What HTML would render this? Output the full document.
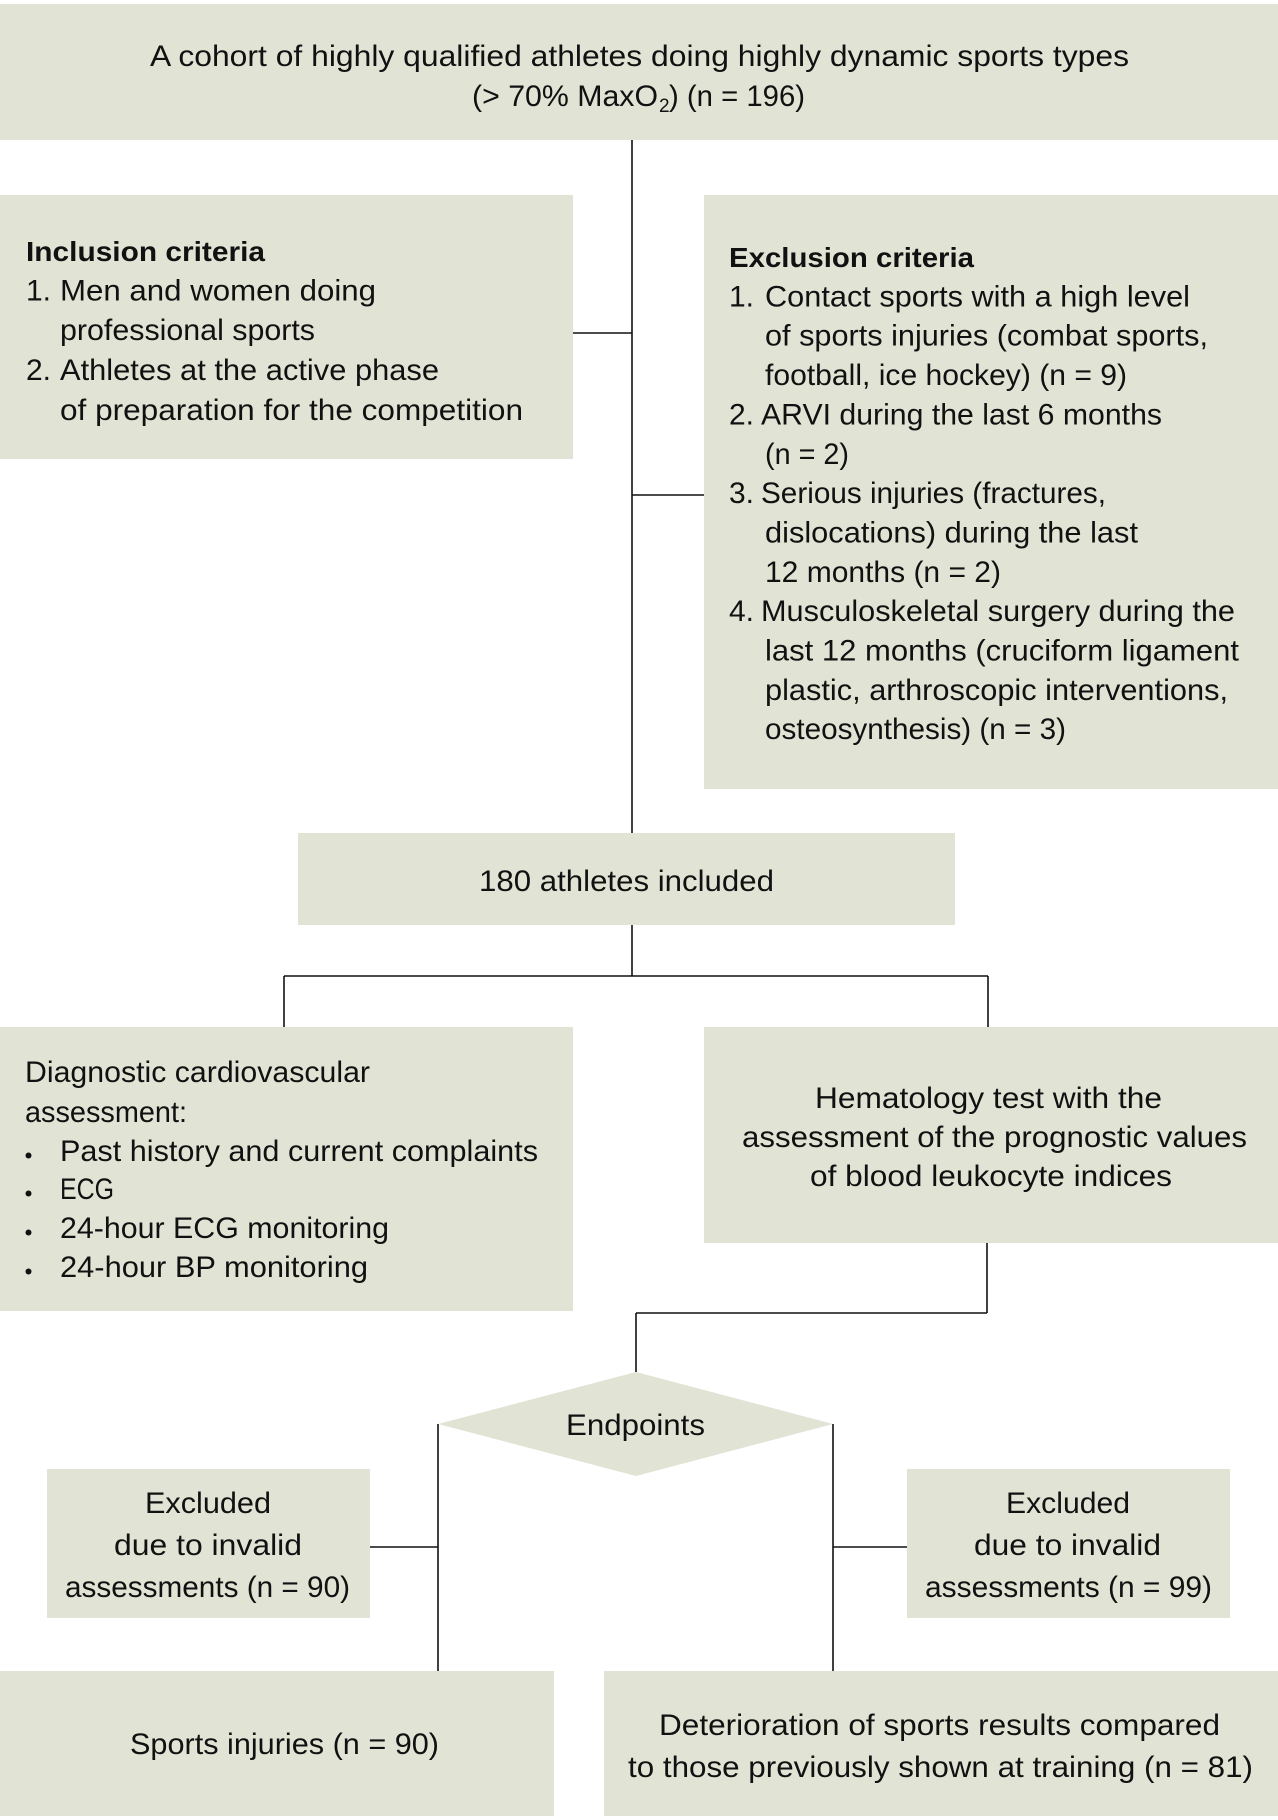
<!DOCTYPE html>
<html>
<head>
<meta charset="utf-8">
<style>
  html, body { margin: 0; padding: 0; background: #ffffff; }
  svg { display: block; }
  text { font-family: "Liberation Sans", Arial, sans-serif; font-size: 30px; fill: #111111; }
  .b { font-weight: bold; font-size: 28px; }
  .box { fill: #e1e4d5; }
  .ln { stroke: #111111; stroke-width: 1.6; fill: none; }
</style>
</head>
<body>
<svg width="1278" height="1820" viewBox="0 0 1278 1820" xmlns="http://www.w3.org/2000/svg">
  <!-- Boxes -->
  <rect class="box" x="0" y="4" width="1278" height="136"/>
  <rect class="box" x="0" y="195" width="573" height="264"/>
  <rect class="box" x="704" y="195" width="574" height="594"/>
  <rect class="box" x="298" y="833" width="657" height="92"/>
  <rect class="box" x="0" y="1027" width="573" height="284"/>
  <rect class="box" x="704" y="1027" width="574" height="216"/>
  <polygon class="box" points="636,1372 833,1424 636,1476 438,1424"/>
  <rect class="box" x="47" y="1469" width="323" height="149"/>
  <rect class="box" x="907" y="1469" width="323" height="149"/>
  <rect class="box" x="0" y="1671" width="554" height="145"/>
  <rect class="box" x="604" y="1671" width="674" height="145"/>

  <!-- Connectors -->
  <line class="ln" x1="632" y1="140" x2="632" y2="833"/>
  <line class="ln" x1="573" y1="333" x2="632" y2="333"/>
  <line class="ln" x1="632" y1="495" x2="704" y2="495"/>
  <line class="ln" x1="632" y1="925" x2="632" y2="976"/>
  <line class="ln" x1="284" y1="976" x2="988" y2="976"/>
  <line class="ln" x1="284" y1="976" x2="284" y2="1027"/>
  <line class="ln" x1="988" y1="976" x2="988" y2="1027"/>
  <line class="ln" x1="987" y1="1243" x2="987" y2="1313"/>
  <line class="ln" x1="636" y1="1313" x2="987" y2="1313"/>
  <line class="ln" x1="636" y1="1313" x2="636" y2="1372"/>
  <line class="ln" x1="438" y1="1424" x2="438" y2="1671"/>
  <line class="ln" x1="833" y1="1424" x2="833" y2="1671"/>
  <line class="ln" x1="370" y1="1547" x2="438" y2="1547"/>
  <line class="ln" x1="833" y1="1547" x2="907" y2="1547"/>

  <!-- Top box text -->
  <text x="150" y="66" textLength="979" lengthAdjust="spacingAndGlyphs">A cohort of highly qualified athletes doing highly dynamic sports types</text>
  <text x="472" y="106" textLength="186" lengthAdjust="spacingAndGlyphs">(&gt; 70% MaxO</text>
  <text x="659" y="112" style="font-size:19px">2</text>
  <text x="669" y="106" textLength="136" lengthAdjust="spacingAndGlyphs">) (n = 196)</text>

  <!-- Inclusion -->
  <text class="b" x="26" y="261" textLength="239" lengthAdjust="spacingAndGlyphs">Inclusion criteria</text>
  <text x="26" y="300.5">1.</text>
  <text x="60" y="300.5" textLength="316" lengthAdjust="spacingAndGlyphs">Men and women doing</text>
  <text x="60" y="340" textLength="255" lengthAdjust="spacingAndGlyphs">professional sports</text>
  <text x="26" y="380">2.</text>
  <text x="60" y="380" textLength="379" lengthAdjust="spacingAndGlyphs">Athletes at the active phase</text>
  <text x="60" y="420" textLength="463" lengthAdjust="spacingAndGlyphs">of preparation for the competition</text>

  <!-- Exclusion -->
  <text class="b" x="729" y="267" textLength="245" lengthAdjust="spacingAndGlyphs">Exclusion criteria</text>
  <text x="729" y="306.4">1.</text>
  <text x="765" y="306.4" textLength="425" lengthAdjust="spacingAndGlyphs">Contact sports with a high level</text>
  <text x="765" y="345.7" textLength="443" lengthAdjust="spacingAndGlyphs">of sports injuries (combat sports,</text>
  <text x="765" y="385" textLength="362" lengthAdjust="spacingAndGlyphs">football, ice hockey) (n = 9)</text>
  <text x="729" y="424.4">2.</text>
  <text x="761" y="424.4" textLength="401" lengthAdjust="spacingAndGlyphs">ARVI during the last 6 months</text>
  <text x="765" y="463.8" textLength="84" lengthAdjust="spacingAndGlyphs">(n = 2)</text>
  <text x="729" y="503.1">3.</text>
  <text x="761" y="503.1" textLength="345" lengthAdjust="spacingAndGlyphs">Serious injuries (fractures,</text>
  <text x="765" y="542.5" textLength="373" lengthAdjust="spacingAndGlyphs">dislocations) during the last</text>
  <text x="765" y="581.8" textLength="236" lengthAdjust="spacingAndGlyphs">12 months (n = 2)</text>
  <text x="729" y="621.2">4.</text>
  <text x="761" y="621.2" textLength="474" lengthAdjust="spacingAndGlyphs">Musculoskeletal surgery during the</text>
  <text x="765" y="660.5" textLength="474" lengthAdjust="spacingAndGlyphs">last 12 months (cruciform ligament</text>
  <text x="765" y="699.9" textLength="463" lengthAdjust="spacingAndGlyphs">plastic, arthroscopic interventions,</text>
  <text x="765" y="739.2" textLength="301" lengthAdjust="spacingAndGlyphs">osteosynthesis) (n = 3)</text>

  <!-- 180 athletes -->
  <text x="479" y="891" textLength="295" lengthAdjust="spacingAndGlyphs">180 athletes included</text>

  <!-- Diagnostic -->
  <text x="25" y="1082" textLength="345" lengthAdjust="spacingAndGlyphs">Diagnostic cardiovascular</text>
  <text x="25" y="1122" textLength="162" lengthAdjust="spacingAndGlyphs">assessment:</text>
  <circle cx="28.5" cy="1155.5" r="3" fill="#111"/>
  <text x="60" y="1161" textLength="478" lengthAdjust="spacingAndGlyphs">Past history and current complaints</text>
  <circle cx="28.5" cy="1193.5" r="3" fill="#111"/>
  <text x="60" y="1199" textLength="54" lengthAdjust="spacingAndGlyphs">ECG</text>
  <circle cx="28.5" cy="1232.5" r="3" fill="#111"/>
  <text x="60" y="1238" textLength="329" lengthAdjust="spacingAndGlyphs">24-hour ECG monitoring</text>
  <circle cx="28.5" cy="1271.5" r="3" fill="#111"/>
  <text x="60" y="1277" textLength="308" lengthAdjust="spacingAndGlyphs">24-hour BP monitoring</text>

  <!-- Hematology -->
  <text x="815" y="1108" textLength="347" lengthAdjust="spacingAndGlyphs">Hematology test with the</text>
  <text x="742" y="1147" textLength="505" lengthAdjust="spacingAndGlyphs">assessment of the prognostic values</text>
  <text x="810" y="1186" textLength="362" lengthAdjust="spacingAndGlyphs">of blood leukocyte indices</text>

  <!-- Endpoints -->
  <text x="566" y="1435" textLength="139" lengthAdjust="spacingAndGlyphs">Endpoints</text>

  <!-- Excluded left -->
  <text x="145" y="1513" textLength="126" lengthAdjust="spacingAndGlyphs">Excluded</text>
  <text x="114" y="1555" textLength="188" lengthAdjust="spacingAndGlyphs">due to invalid</text>
  <text x="65" y="1597" textLength="285" lengthAdjust="spacingAndGlyphs">assessments (n = 90)</text>

  <!-- Excluded right -->
  <text x="1006" y="1513" textLength="124" lengthAdjust="spacingAndGlyphs">Excluded</text>
  <text x="974" y="1555" textLength="187" lengthAdjust="spacingAndGlyphs">due to invalid</text>
  <text x="925" y="1597" textLength="287" lengthAdjust="spacingAndGlyphs">assessments (n = 99)</text>

  <!-- Bottom boxes -->
  <text x="130" y="1754" textLength="309" lengthAdjust="spacingAndGlyphs">Sports injuries (n = 90)</text>
  <text x="659" y="1735" textLength="561" lengthAdjust="spacingAndGlyphs">Deterioration of sports results compared</text>
  <text x="628" y="1777" textLength="625" lengthAdjust="spacingAndGlyphs">to those previously shown at training (n = 81)</text>
</svg>
</body>
</html>
